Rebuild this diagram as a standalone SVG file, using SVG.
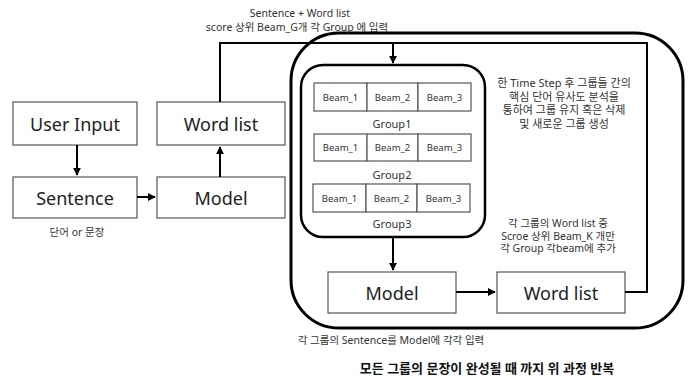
<svg xmlns="http://www.w3.org/2000/svg" width="691" height="387" viewBox="0 0 691 387">
<style>
.box{fill:#fff;stroke:#555;stroke-width:1.2}
.lbl{font-family:"Noto Sans","Noto Sans CJK KR",sans-serif;font-size:18px;fill:#222;text-anchor:middle;dominant-baseline:central}
.beam{font-family:"Noto Sans","Noto Sans CJK KR",sans-serif;font-size:9.5px;fill:#333;text-anchor:middle;dominant-baseline:central}
.grp{font-family:"Noto Sans","Noto Sans CJK KR",sans-serif;font-size:11px;fill:#333;text-anchor:middle;dominant-baseline:central}
.note{font-family:"Noto Sans","Noto Sans CJK KR",sans-serif;font-size:11px;fill:#333;text-anchor:middle;dominant-baseline:central}
.con{fill:none;stroke:#000;stroke-width:2}
</style>
<defs>
<marker id="ah" viewBox="0 0 10 10" refX="9" refY="5" markerWidth="4" markerHeight="4" orient="auto"><path d="M0,0 L10,5 L0,10 z" fill="#000"/></marker>
</defs>
<rect width="691" height="387" fill="#fff"/>
<g id="outer-loop"><rect x="291" y="33" width="392" height="295" rx="48" ry="48" fill="none" stroke="#000" stroke-width="3"/></g>
<g id="groups">
<rect x="301" y="65" width="184" height="172" rx="22" ry="22" fill="none" stroke="#000" stroke-width="2.5"/>
<g id="group1">
<rect class="box" x="314" y="83" width="53" height="28"/><rect class="box" x="367" y="83" width="51" height="28"/><rect class="box" x="418" y="83" width="53" height="28"/>
<text class="beam" x="340.5" y="97">Beam_1</text><text class="beam" x="392.5" y="97">Beam_2</text><text class="beam" x="444.5" y="97">Beam_3</text>
<text class="grp" x="392" y="123">Group1</text>
</g>
<g id="group2">
<rect class="box" x="314" y="134" width="53" height="27"/><rect class="box" x="367" y="134" width="51" height="27"/><rect class="box" x="418" y="134" width="53" height="27"/>
<text class="beam" x="340.5" y="147.5">Beam_1</text><text class="beam" x="392.5" y="147.5">Beam_2</text><text class="beam" x="444.5" y="147.5">Beam_3</text>
<text class="grp" x="392" y="174">Group2</text>
</g>
<g id="group3">
<rect class="box" x="313" y="184" width="53" height="28"/><rect class="box" x="366" y="184" width="51" height="28"/><rect class="box" x="417" y="184" width="53" height="28"/>
<text class="beam" x="339.5" y="198">Beam_1</text><text class="beam" x="391.5" y="198">Beam_2</text><text class="beam" x="443.5" y="198">Beam_3</text>
<text class="grp" x="392" y="223">Group3</text>
</g>
</g>
<g id="user-input"><rect class="box" x="13" y="102" width="124" height="43"/><text class="lbl" x="75" y="123.5">User Input</text></g>
<g id="sentence"><rect class="box" x="13" y="177" width="124" height="41"/><text class="lbl" x="75" y="197.5">Sentence</text>
<text class="note" x="77" y="232" style="font-size:10.5px">단어 or 문장</text></g>
<g id="word-list-1"><rect class="box" x="157" y="102" width="128" height="43"/><text class="lbl" x="221" y="123.5">Word list</text></g>
<g id="model-1"><rect class="box" x="157" y="177" width="128" height="41"/><text class="lbl" x="221" y="197.5">Model</text></g>
<g id="model-2"><rect class="box" x="328" y="272" width="128" height="41"/><text class="lbl" x="392" y="292.5">Model</text></g>
<g id="word-list-2"><rect class="box" x="497" y="272" width="128" height="41"/><text class="lbl" x="561" y="292.5">Word list</text></g>
<g id="connectors">
<path class="con" d="M77,145 V175" marker-end="url(#ah)"/>
<path class="con" d="M137,197 H155" marker-end="url(#ah)"/>
<path class="con" d="M220,177 V147" marker-end="url(#ah)"/>
<path class="con" d="M220,102 V43 H647 V292 H625"/>
<path class="con" d="M393,43 V63" marker-end="url(#ah)"/>
<path class="con" d="M393,237 V270" marker-end="url(#ah)"/>
<path class="con" d="M456,292 H495" marker-end="url(#ah)"/>
</g>
<g id="annotations">
<text class="note" x="300" y="13" style="font-size:10.5px">Sentence + Word list</text>
<text class="note" x="297" y="27" style="font-size:10.5px">score 상위 Beam_G개 각 Group 에 입력</text>
<text class="note" x="564" y="82.5" style="font-size:11px">한 Time Step 후 그룹들 간의</text>
<text class="note" x="564" y="96" style="font-size:11px">핵심 단어 유사도 분석을</text>
<text class="note" x="564" y="109.5" style="font-size:11px">통하여 그룹 유지 혹은 삭제</text>
<text class="note" x="564" y="123" style="font-size:11px">및 새로운 그룹 생성</text>
<text class="note" x="558" y="223" style="font-size:10.5px">각 그룹의 Word list 중</text>
<text class="note" x="558" y="235.5" style="font-size:10.5px">Scroe 상위 Beam_K 개만</text>
<text class="note" x="558" y="248" style="font-size:10.5px">각 Group 각beam에 추가</text>
<text class="note" x="391" y="340" style="font-size:10.5px">각 그룹의 Sentence를  Model에 각각 입력</text>
<text class="note" x="487" y="368" style="font-size:13px;font-weight:bold;fill:#111">모든 그룹의 문장이 완성될 때 까지 위 과정 반복</text>
</g>
</svg>
